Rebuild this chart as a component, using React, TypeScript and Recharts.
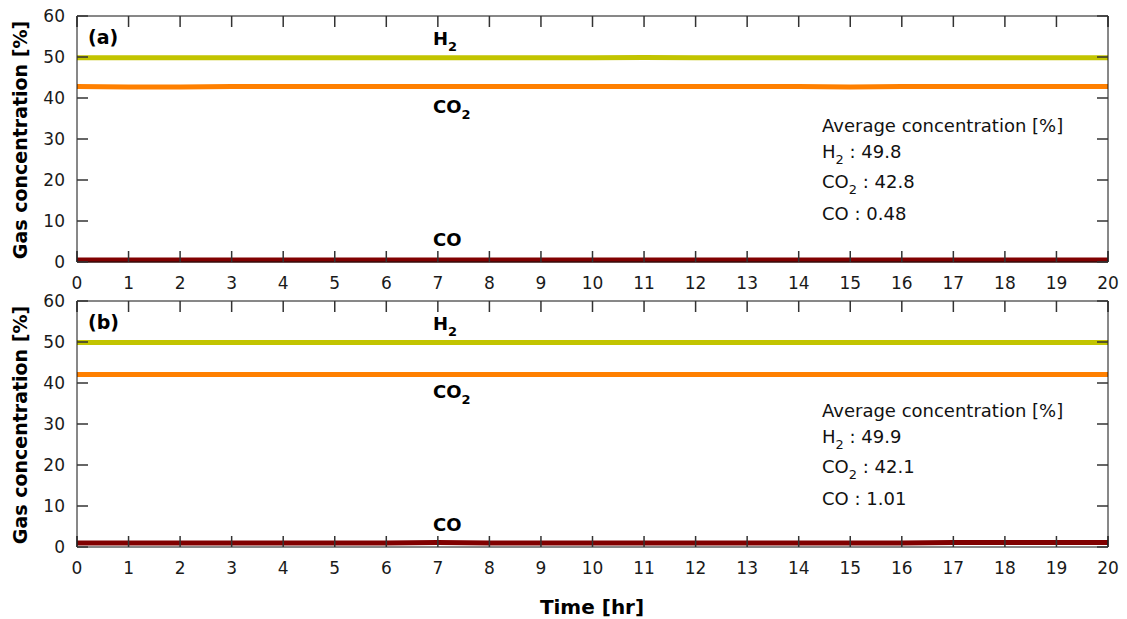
import { LineChart, Line, XAxis, YAxis } from 'recharts';

// time axis [hr], one reading per hour
const hours = [0, 1, 2, 3, 4, 5, 6, 7, 8, 9, 10, 11, 12, 13, 14, 15, 16, 17, 18, 19, 20];

// panel (a)
const h2A = [49.8, 49.8, 49.8, 49.8, 49.8, 49.8, 49.8, 49.8, 49.8, 49.8, 49.8, 49.9, 49.8, 49.8, 49.8, 49.8, 49.8, 49.8, 49.8, 49.8, 49.8];
const co2A = [42.8, 42.7, 42.7, 42.8, 42.8, 42.8, 42.8, 42.8, 42.8, 42.8, 42.8, 42.8, 42.8, 42.8, 42.8, 42.7, 42.8, 42.8, 42.8, 42.8, 42.8];
const coA = [0.48, 0.48, 0.48, 0.48, 0.48, 0.48, 0.48, 0.48, 0.48, 0.48, 0.48, 0.48, 0.48, 0.48, 0.48, 0.48, 0.48, 0.48, 0.48, 0.48, 0.48];

// panel (b)
const h2B = [49.9, 49.9, 49.9, 49.9, 49.9, 49.9, 49.9, 49.9, 49.9, 49.9, 49.9, 49.9, 49.9, 49.9, 49.9, 49.9, 49.9, 49.9, 49.9, 49.9, 49.9];
const co2B = [42.1, 42.1, 42.1, 42.1, 42.1, 42.1, 42.1, 42.1, 42.1, 42.1, 42.1, 42.1, 42.1, 42.1, 42.1, 42.1, 42.1, 42.1, 42.1, 42.1, 42.1];
const coB = [1.0, 1.0, 1.0, 1.0, 1.0, 1.0, 1.0, 1.1, 1.0, 1.0, 1.0, 1.0, 1.0, 1.0, 1.0, 1.0, 1.0, 1.1, 1.1, 1.1, 1.1];

const xTicks = hours;
const yTicks = [0, 10, 20, 30, 40, 50, 60];

const COLOR_H2 = '#c2c400';
const COLOR_CO2 = '#ff8000';
const COLOR_CO = '#800000';

const dataA = hours.map((t, i) => ({ t, h2: h2A[i], co2: co2A[i], co: coA[i] }));
const dataB = hours.map((t, i) => ({ t, h2: h2B[i], co2: co2B[i], co: coB[i] }));

const tickStyle = { fontFamily: 'DejaVu Sans', fontSize: 17, fill: '#1a1a1a' };
const tickLine = { stroke: '#333', strokeWidth: 1.5 };
const boldText = { fontFamily: 'DejaVu Sans', fontWeight: 'bold' as const, color: '#000' };
const plainText = { fontFamily: 'DejaVu Sans', fontSize: 18, color: '#111' };

// tick={false} drops the tick lines too, so mirror axes get an empty label instead
const NoLabel = () => <g />;

function Panel({ data }: { data: typeof dataA }) {
  return (
    <LineChart width={1127} height={300} data={data} margin={{ top: 15, right: 18, left: 0, bottom: 0 }}>
      <XAxis
        dataKey="t"
        type="number"
        domain={[0, 20]}
        ticks={xTicks}
        height={38}
        tickSize={-11}
        tickMargin={26}
        tick={tickStyle}
        stroke="#111"
        tickLine={tickLine}
        interval={0}
      />
      <XAxis
        xAxisId="top"
        dataKey="t"
        type="number"
        orientation="top"
        domain={[0, 20]}
        ticks={xTicks}
        height={1}
        tickSize={-11}
        tick={NoLabel}
        stroke="#111"
        tickLine={tickLine}
        interval={0}
      />
      <YAxis
        type="number"
        domain={[0, 60]}
        ticks={yTicks}
        width={77}
        tickSize={-11}
        tickMargin={23}
        tick={tickStyle}
        stroke="#111"
        tickLine={tickLine}
        interval={0}
      />
      <YAxis
        yAxisId="right"
        orientation="right"
        type="number"
        domain={[0, 60]}
        ticks={yTicks}
        width={1}
        tickSize={-11}
        tick={NoLabel}
        stroke="#111"
        tickLine={tickLine}
        interval={0}
      />
      <Line type="linear" dataKey="h2" stroke={COLOR_H2} strokeWidth={5} dot={false} isAnimationActive={false} />
      <Line type="linear" dataKey="co2" stroke={COLOR_CO2} strokeWidth={5} dot={false} isAnimationActive={false} />
      <Line type="linear" dataKey="co" stroke={COLOR_CO} strokeWidth={5} dot={false} isAnimationActive={false} />
      {/* hidden series so the mirror axes are drawn */}
      <Line xAxisId="top" yAxisId="right" dataKey="h2" stroke="none" dot={false} legendType="none" isAnimationActive={false} />
    </LineChart>
  );
}

function Abs({ x, y, children, style }: { x: number; y: number; children: any; style?: any }) {
  return (
    <div style={{ position: 'absolute', left: x, top: y, transform: 'translateY(-50%)', whiteSpace: 'nowrap', lineHeight: 1, ...style }}>
      {children}
    </div>
  );
}

const sub = { fontSize: '0.72em', verticalAlign: '-0.4em' };

function Notes({ top, tag, h2, co2, co }: { top: number; tag: string; h2: string; co2: string; co: string }) {
  const o = top - 16;
  return (
    <>
      <Abs x={88} y={o + 37} style={{ ...boldText, fontSize: 19 }}>{tag}</Abs>
      <Abs x={433} y={o + 42} style={{ ...boldText, fontSize: 18 }}>H<span style={sub}>2</span></Abs>
      <Abs x={433} y={o + 110} style={{ ...boldText, fontSize: 18 }}>CO<span style={sub}>2</span></Abs>
      <Abs x={433} y={o + 240} style={{ ...boldText, fontSize: 18 }}>CO</Abs>
      <Abs x={822} y={o + 126} style={plainText}>Average concentration [%]</Abs>
      <Abs x={822} y={o + 155} style={plainText}>H<span style={sub}>2</span> : {h2}</Abs>
      <Abs x={822} y={o + 185} style={plainText}>CO<span style={sub}>2</span> : {co2}</Abs>
      <Abs x={822} y={o + 214} style={plainText}>CO : {co}</Abs>
      <div
        style={{
          position: 'absolute',
          left: 20,
          top: o + 140,
          transform: 'translate(-50%, -50%) rotate(-90deg)',
          whiteSpace: 'nowrap',
          lineHeight: 1,
          ...boldText,
          fontSize: 19,
        }}
      >
        Gas concentration [%]
      </div>
    </>
  );
}

export default function App() {
  return (
    <div style={{ position: 'absolute', left: 0, top: 0, width: 1127, height: 619, background: '#fff', overflow: 'hidden' }}>
      <div style={{ position: 'absolute', left: 0, top: 0 }}>
        <Panel data={dataA} />
      </div>
      <div style={{ position: 'absolute', left: 0, top: 285 }}>
        <Panel data={dataB} />
      </div>
      <Notes top={16} tag="(a)" h2="49.8" co2="42.8" co="0.48" />
      <Notes top={301} tag="(b)" h2="49.9" co2="42.1" co="1.01" />
      <div style={{ position: 'absolute', left: 592, top: 607, transform: 'translate(-50%, -50%)', whiteSpace: 'nowrap', lineHeight: 1, ...boldText, fontSize: 20 }}>
        Time [hr]
      </div>
    </div>
  );
}
